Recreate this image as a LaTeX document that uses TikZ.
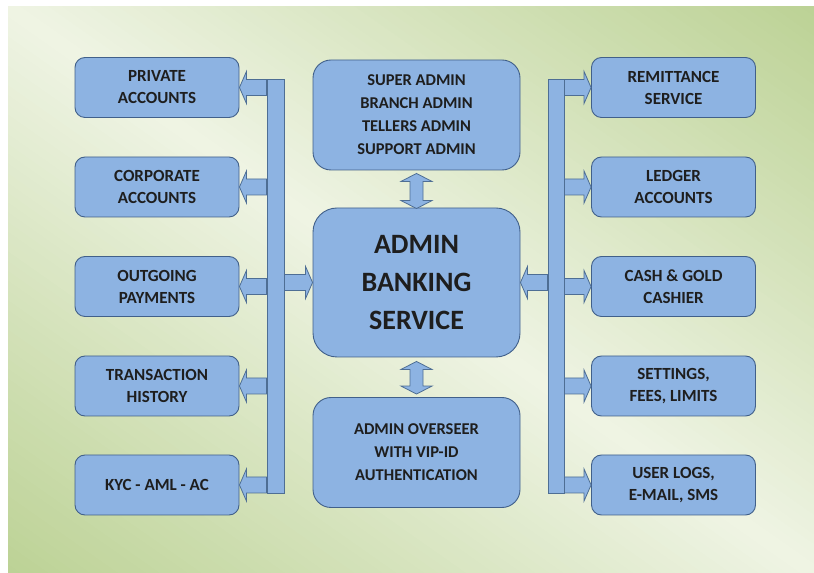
\documentclass[tikz,border=0pt]{standalone}
\usepackage{fontspec}
\setmainfont{Carlito}
\usetikzlibrary{calc}
\definecolor{boxfill}{HTML}{8DB3E2}
\definecolor{boxline}{HTML}{41608A}
\definecolor{arrline}{HTML}{4E6E94}
\definecolor{txt}{HTML}{1E1E1E}
\definecolor{bglight}{HTML}{EFF4E4}
\definecolor{bggreen}{HTML}{BCD295}
\newcommand\ArrLeft[2]{\draw[blk] (#1.east) -- ++(7,16) -- ++(0,-8) -- ($(#2.west |- #1.east)+(0,8)$) -- ++(0,-16) -- ($(#1.east)+(7,-8)$) -- ++(0,-8) -- cycle;}
\newcommand\ArrRight[2]{\draw[blk] (#1.west) -- ++(-7,16) -- ++(0,-8) -- ($(#2.east |- #1.west)+(0,8)$) -- ++(0,-16) -- ($(#1.west)+(-7,-8)$) -- ++(0,-8) -- cycle;}
\newcommand\ArrVert[2]{\draw[blk] (#1) -- ++(15.5,-8) -- ++(-9,0) -- ($(#2)+(6.5,8)$) -- ++(9,0) -- (#2) -- ++(-15.5,8) -- ++(9,0) -- ($(#1)+(-6.5,-8)$) -- ++(-9,0) -- cycle;}
\begin{document}
\begin{tikzpicture}[x=1pt,y=1pt,
  box/.style={draw=boxline, line width=0.9pt, fill=boxfill, rounded corners=10pt,
    minimum width=164pt, minimum height=60pt, inner sep=0pt, align=center, text=txt,
    font=\bfseries\fontsize{17}{22}\selectfont},
  midbox/.style={box, minimum width=207pt, minimum height=110pt, rounded corners=18pt,
    font=\bfseries\fontsize{16.5}{23}\selectfont},
  mainbox/.style={box, minimum width=207pt, minimum height=149pt, rounded corners=24pt,
    font=\bfseries\fontsize{28}{38}\selectfont},
  bar/.style={draw=arrline, line width=0.8pt, fill=boxfill, minimum width=17pt, inner sep=0pt},
  blk/.style={draw=arrline, line width=0.8pt, fill=boxfill, line join=miter}]
\useasboundingbox (0,0) rectangle (814,573);
\fill[white] (0,0) rectangle (814,573);
% background gradient: light along the main diagonal, green toward the other corners
\begin{scope}
  \clip (8,0) rectangle (814,566);
  \begin{scope}[shift={(411,283)}, rotate=-35.08]
    \foreach \i in {-60,...,59} {
      \pgfmathsetmacro\p{min(100,abs(\i+0.5)/58*100)}
      \fill[bggreen!\p!bglight] (-700,\i*8) rectangle (700,\i*8+8.6);
    }
  \end{scope}
\end{scope}
% left column
\node[box] (pa) at (157,485.5) {PRIVATE\\ACCOUNTS};
\node[box] (ca) at (157,386) {CORPORATE\\ACCOUNTS};
\node[box] (op) at (157,286.5) {OUTGOING\\PAYMENTS};
\node[box] (th) at (157,187) {TRANSACTION\\HISTORY};
\node[box] (kyc) at (157,88) {KYC - AML - AC};
% right column
\node[box] (rs) at (673.5,485.5) {REMITTANCE\\SERVICE};
\node[box] (la) at (673.5,386) {LEDGER\\ACCOUNTS};
\node[box] (cg) at (673.5,286.5) {CASH \& GOLD\\CASHIER};
\node[box] (sf) at (673.5,187) {SETTINGS,\\FEES, LIMITS};
\node[box] (ul) at (673.5,88) {USER LOGS,\\E-MAIL, SMS};
% center column
\node[midbox] (top) at (416.5,458) {SUPER ADMIN\\BRANCH ADMIN\\TELLERS ADMIN\\SUPPORT ADMIN};
\node[mainbox] (main) at (416.5,290.5) {ADMIN\\BANKING\\SERVICE};
\node[midbox] (bot) at (416.5,120.5) {ADMIN OVERSEER\\WITH VIP-ID\\AUTHENTICATION};
% bars
\node[bar, minimum height=414pt] (barL) at (275.5,286.75) {};
\node[bar, minimum width=16pt, minimum height=414pt] (barR) at (556,286.75) {};
% left arrows
\ArrLeft{pa}{barL}
\ArrLeft{ca}{barL}
\ArrLeft{op}{barL}
\ArrLeft{th}{barL}
\ArrLeft{kyc}{barL}
\ArrRight{main}{barL}
% right arrows
\ArrRight{rs}{barR}
\ArrRight{la}{barR}
\ArrRight{cg}{barR}
\ArrRight{sf}{barR}
\ArrRight{ul}{barR}
\ArrLeft{main}{barR}
% vertical double arrows
\coordinate (t1) at ($(top.south)+(0,-3)$);
\coordinate (t2) at ($(main.north)+(0,-1)$);
\coordinate (b1) at ($(main.south)+(0,-4)$);
\coordinate (b2) at ($(bot.north)+(0,3)$);
\ArrVert{t1}{t2}
\ArrVert{b1}{b2}
\end{tikzpicture}
\end{document}
